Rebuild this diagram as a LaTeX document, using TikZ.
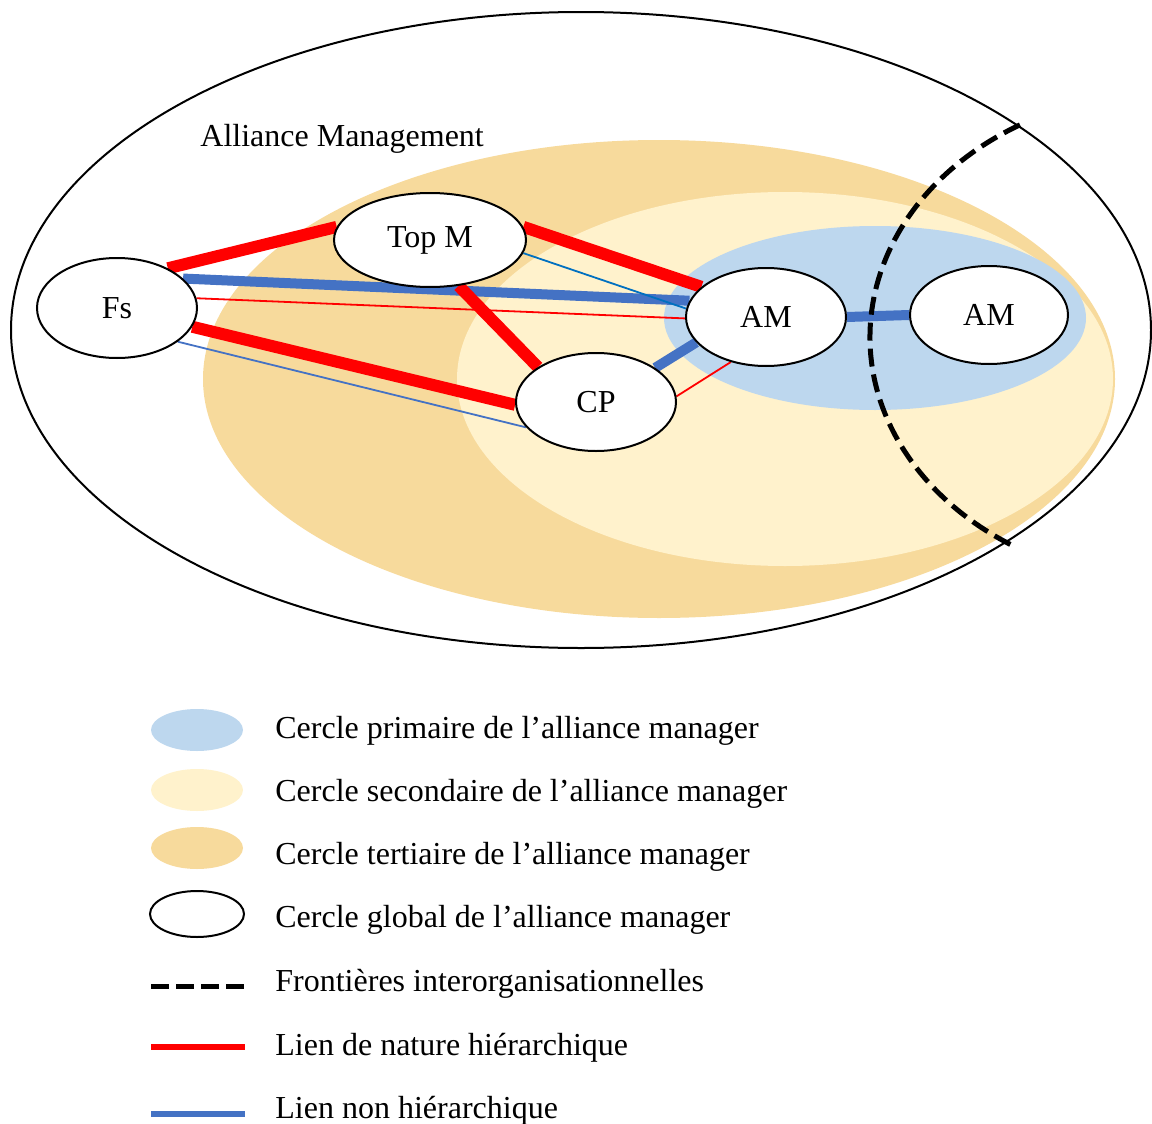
\documentclass[tikz,border=0pt]{standalone}
\usepackage{fontspec}
\setmainfont{Liberation Serif}
\usetikzlibrary{shapes.geometric}
\definecolor{prim}{HTML}{BDD7EE}
\definecolor{seco}{HTML}{FFF2CC}
\definecolor{tert}{HTML}{F7DA9C}
\definecolor{lred}{HTML}{FF0000}
\definecolor{lblue}{HTML}{4472C4}
\definecolor{tblue}{HTML}{0070C0}
\pgfdeclarelayer{back}
\pgfdeclarelayer{links}
\pgfsetlayers{back,links,main}
\begin{document}
\begin{tikzpicture}[x=0.5pt,y=-0.5pt,
  actor/.style={ellipse, draw=black, line width=1pt, fill=white, inner sep=0pt,
                font=\fontsize{16}{19}\selectfont},
  hierthick/.style={draw=lred, line width=6pt},
  hierthin/.style={draw=lred, line width=0.9pt},
  nonhthick/.style={draw=lblue, line width=5pt},
  nonhthin/.style={draw=lblue, line width=0.9pt},
  boundary/.style={draw=black, line width=2.5pt, dash pattern=on 9pt off 4pt},
  lbl/.style={anchor=base west, font=\fontsize{16}{19}\selectfont, inner sep=0pt},
]
\useasboundingbox (0,0) rectangle (1152,1124);

% circles
\begin{pgfonlayer}{back}
\draw[line width=1pt] (581,330) ellipse [x radius=570, y radius=318];
\fill[tert] (659,379) ellipse [x radius=456, y radius=239];
\fill[seco] (785,379) ellipse [x radius=328, y radius=187];
\fill[prim] (875,318) ellipse [x radius=211, y radius=92];
\end{pgfonlayer}

\node[lbl] (title) at (200,146) {Alliance Management};

% actors
\node[actor, minimum width=96pt, minimum height=47pt] (TopM) at (430,240) {Top M};
\node[actor, minimum width=80pt, minimum height=50pt] (Fs) at (117,308) {Fs};
\node[actor, minimum width=80pt, minimum height=49pt] (AMa) at (766,317) {AM};
\node[actor, minimum width=79pt, minimum height=49pt] (AMb) at (989,315) {AM};
\node[actor, minimum width=80pt, minimum height=49pt] (CP) at (596,402) {CP};

% links (behind the actors)
\begin{pgfonlayer}{links}
\path[nonhthin] (Fs.331) -- (CP.200);
\path[hierthick] (Fs.346) -- (CP.182);
\path[hierthin] (Fs.7) -- (AMa.181);
\path[nonhthick] (Fs.24) -- (AMa.168);
\path[hierthick] (Fs.38) -- (TopM.172);
\path[draw=tblue, line width=0.9pt] (TopM.352) -- (AMa.174);
\path[hierthick] (TopM.8) -- (AMa.155);
\path[hierthick] (TopM.302) -- (CP.149);
\path[nonhthick] (CP.30) -- (AMa.200);
\path[hierthin] (CP.4) -- (AMa.232);
\path[nonhthick] (AMa.east) -- (AMb.west);
\end{pgfonlayer}

% interorganisational boundary
\draw[boundary] (1170,337) ++(240:300 and 245)
  arc[start angle=240, end angle=122, x radius=300, y radius=245];

% legend
\fill[prim] (197,730) ellipse [x radius=46, y radius=21];
\fill[seco] (197,790) ellipse [x radius=46, y radius=21];
\fill[tert] (197,848) ellipse [x radius=46, y radius=21];
\draw[line width=1pt] (197,914) ellipse [x radius=47, y radius=23];
\coordinate (dA) at (151,986); \coordinate (dB) at (245,986);
\draw[boundary, dash pattern=on 9pt off 3.5pt] (dA) -- (dB);
\coordinate (rA) at (151,1047); \coordinate (rB) at (245,1047);
\draw[draw=lred, line width=3pt] (rA) -- (rB);
\coordinate (bA) at (151,1114); \coordinate (bB) at (245,1114);
\draw[draw=lblue, line width=3pt] (bA) -- (bB);

\node[lbl] (l1) at (275,738) {Cercle primaire de l’alliance manager};
\node[lbl] (l2) at (275,801) {Cercle secondaire de l’alliance manager};
\node[lbl] (l3) at (275,864) {Cercle tertiaire de l’alliance manager};
\node[lbl] (l4) at (275,927) {Cercle global de l’alliance manager};
\node[lbl] (l5) at (275,991) {Frontières interorganisationnelles};
\node[lbl] (l6) at (275,1055) {Lien de nature hiérarchique};
\node[lbl] (l7) at (275,1118) {Lien non hiérarchique};
\end{tikzpicture}
\end{document}
